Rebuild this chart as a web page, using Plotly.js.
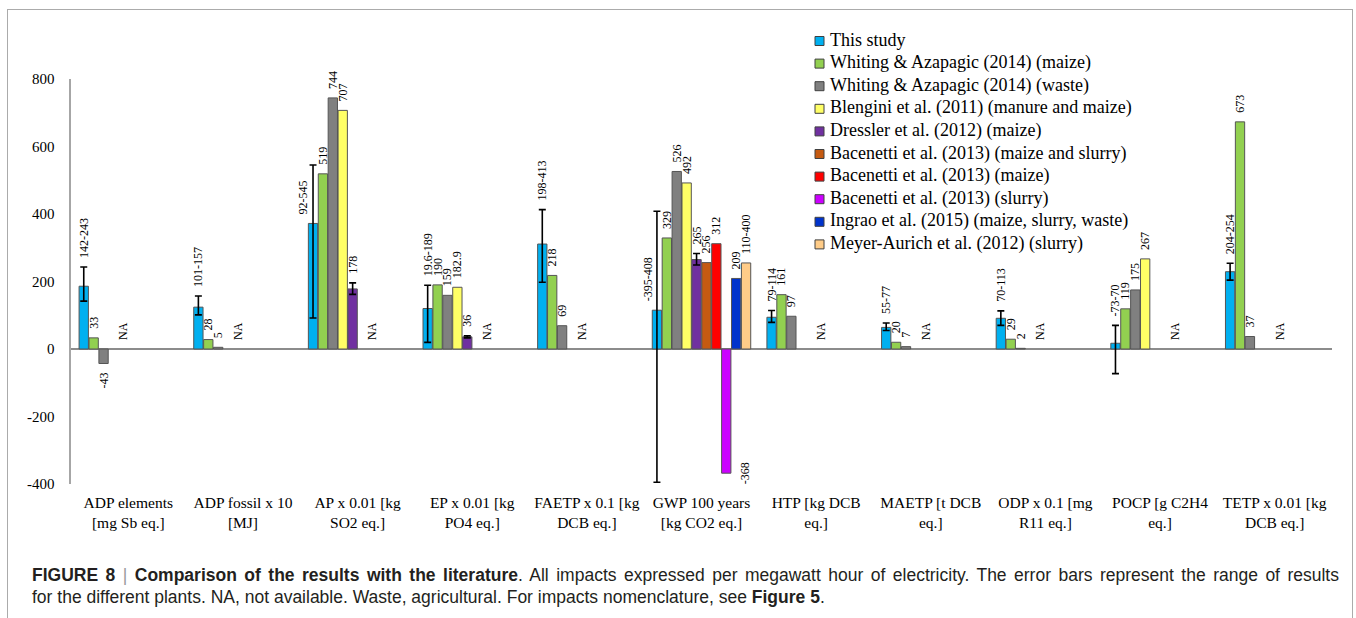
<!DOCTYPE html>
<html><head><meta charset="utf-8">
<script src="https://cdn.plot.ly/plotly-3.0.1.min.js"></script>
<style>
html,body{margin:0;padding:0;background:#fff;}
#wrap{position:relative;width:1356px;height:618px;overflow:hidden;background:#fff;}
#chart{position:absolute;left:0;top:0;width:1356px;height:618px;}
#frame{position:absolute;left:7px;top:9px;width:1344px;height:700px;border:1px solid #ababab;pointer-events:none;}
.cap{position:absolute;left:32px;font-family:'Liberation Sans',Arial,sans-serif;font-size:17.5px;line-height:22px;color:#231f20;}
#cap1{top:564px;width:1307px;text-align:justify;text-align-last:justify;white-space:normal;}
#cap2{top:586px;white-space:nowrap;}
.sep{color:#9a9a9a;font-weight:normal;}
</style></head>
<body>
<div id="wrap">
<div id="chart"></div>
<div id="frame"></div>
<div class="cap" id="cap1"><b>FIGURE 8</b> <span class="sep">|</span> <b>Comparison of the results with the literature</b>. All impacts expressed per megawatt hour of electricity. The error bars represent the range of results</div>
<div class="cap" id="cap2">for the different plants. NA, not available. Waste, agricultural. For impacts nomenclature, see <b>Figure 5</b>.</div>
</div>
<script>
// ---------------- data ----------------
const categories = [
  'ADP elements<br>[mg Sb eq.]',
  'ADP fossil x 10<br>[MJ]',
  'AP x 0.01 [kg<br>SO2 eq.]',
  'EP x 0.01 [kg<br>PO4 eq.]',
  'FAETP x 0.1 [kg<br>DCB eq.]',
  'GWP 100 years<br>[kg CO2 eq.]',
  'HTP [kg DCB<br>eq.]',
  'MAETP [t DCB<br>eq.]',
  'ODP x 0.1 [mg<br>R11 eq.]',
  'POCP [g C2H4<br>eq.]',
  'TETP x 0.01 [kg<br>DCB eq.]'
];

const seriesNames = [
  'This study',
  'Whiting &amp; Azapagic (2014) (maize)',
  'Whiting &amp; Azapagic (2014) (waste)',
  'Blengini et al. (2011) (manure and maize)',
  'Dressler et al. (2012) (maize)',
  'Bacenetti et al. (2013) (maize and slurry)',
  'Bacenetti et al. (2013) (maize)',
  'Bacenetti et al. (2013) (slurry)',
  'Ingrao et al. (2015) (maize, slurry, waste)',
  'Meyer-Aurich et al. (2012) (slurry)'
];

const thisStudy      = [186, 124, 372, 120, 311, 115, 94, 64, 91, 17, 229];
const thisStudyLow   = [142, 101, 92, 19.6, 198, -395, 79, 55, 70, -73, 204];
const thisStudyHigh  = [243, 157, 545, 189, 413, 408, 114, 77, 113, 70, 254];
const thisStudyLabels = ['142-243','101-157','92-545','19.6-189','198-413','-395-408','79-114','55-77','70-113','-73-70','204-254'];

const whitingMaize = [33, 28, 519, 190, 218, 329, 161, 20, 29, 119, 673];
const whitingMaizeLabels = ['33','28','519','190','218','329','161','20','29','119','673'];

const whitingWaste = [-43, 5, 744, 159, 69, 526, 97, 7, 2, 175, 37];
const whitingWasteLabels = ['-43','5','744','159','69','526','97','7','2','175','37'];

const blengini = [null, null, 707, 182.9, null, 492, null, null, null, 267, null];
const blenginiLabels = [null, null, '707', '182.9', null, '492', null, null, null, '267', null];

const dressler     = [null, null, 178, 36, null, 265, null, null, null, null, null];
const dresslerLow  = [null, null, 162, 33, null, 249, null, null, null, null, null];
const dresslerHigh = [null, null, 196, 39, null, 283, null, null, null, null, null];
const dresslerLabels = ['NA', 'NA', '178', '36', 'NA', '265', null, 'NA', 'NA', null, null];

const bacenettiMix = [null, null, null, null, null, 256, null, null, null, null, null];
const bacenettiMixLabels = [null, null, null, null, null, '256', 'NA', null, null, null, 'NA'];

const bacenettiMaize = [null, null, null, null, null, 312, null, null, null, null, null];
const bacenettiMaizeLabels = [null, null, 'NA', 'NA', null, '312', null, null, null, 'NA', null];

const bacenettiSlurry = [null, null, null, null, null, -368, null, null, null, null, null];
const bacenettiSlurryLabels = [null, null, null, null, null, '-368', null, null, null, null, null];

const ingrao = [null, null, null, null, null, 209, null, null, null, null, null];
const ingraoLabels = [null, null, null, null, null, '209', null, null, null, null, null];

const meyerAurich = [null, null, null, null, null, 255, null, null, null, null, null];
const meyerAurichLabels = [null, null, null, null, null, '110-400', null, null, null, null, null];

const yTickVals = [-400, -200, 0, 200, 400, 600, 800];
const yTickText = ['-400', '-200', '0', '200', '400', '600', '800'];

// ---------------- styling ----------------
const seriesColors = ['#00B0F0','#92D050','#808080','#FFFF66','#7030A0','#C55A11','#FF0000','#CC00FF','#0033CC','#FFCC88'];
const seriesValues = [thisStudy, whitingMaize, whitingWaste, blengini, dressler, bacenettiMix, bacenettiMaize, bacenettiSlurry, ingrao, meyerAurich];
const seriesLows   = [thisStudyLow, null, null, null, dresslerLow, null, null, null, null, null];
const seriesHighs  = [thisStudyHigh, null, null, null, dresslerHigh, null, null, null, null, null];
const seriesLabels = [thisStudyLabels, whitingMaizeLabels, whitingWasteLabels, blenginiLabels, dresslerLabels, bacenettiMixLabels, bacenettiMaizeLabels, bacenettiSlurryLabels, ingraoLabels, meyerAurichLabels];

// labels moved beside their bar in the original figure (series -> {category: slot shift})
const movedLabels = {0: {2: -1.05, 5: -0.9}};
const besideSeries = 7, besideShift = 1.9;

const SERIF = 'Liberation Serif, Times New Roman, serif';
const BARGAP = 0.136, GROUPGAP = 0.06;
const N = seriesNames.length;
const slot = (1 - BARGAP) / N;
const slotStart = i => -(1 - BARGAP) / 2 + i * slot;
const NB = '\u00a0\u00a0';

const traces = [];
for (let i = 0; i < N; i++) {
  const v = seriesValues[i], lo = seriesLows[i], hi = seriesHighs[i];
  const t = {
    type: 'bar', name: seriesNames[i], x: categories, y: v,
    marker: {color: seriesColors[i], line: {color: '#555555', width: 1}},
    showlegend: false, hoverinfo: 'name+y'
  };
  if (lo && hi) {
    t.error_y = {
      type: 'data', symmetric: false, visible: true,
      array: v.map((d, k) => d == null ? null : hi[k] - d),
      arrayminus: v.map((d, k) => d == null ? null : d - lo[k]),
      color: '#000', thickness: 1.6, width: 3.5
    };
  }
  traces.push(t);
}
// label traces (invisible bars carrying the rotated data labels)
for (let i = 0; i < N; i++) {
  const v = seriesValues[i], lo = seriesLows[i], hi = seriesHighs[i], lab = seriesLabels[i];
  const moved = movedLabels[i] || {};
  const beside = (i === besideSeries);
  const anchors = lab.map((s, k) => {
    if (s == null) return null;
    const d = v[k];
    if (d == null) return 0;
    if (moved[k] != null) return d;
    if (d >= 0) return hi && hi[k] != null ? hi[k] : d;
    return lo && lo[k] != null ? lo[k] : d;
  });
  const texts = lab.map((s, k) => {
    if (s == null) return '';
    if (beside) return s;
    const d = v[k];
    return (d != null && d < 0) ? s + NB : NB + s;
  });
  const offsets = lab.map((s, k) => slotStart(i) + (beside ? besideShift : (moved[k] || 0)) * slot);
  const t = {
    type: 'bar', x: categories, text: texts,
    textposition: beside ? 'inside' : 'outside',
    insidetextanchor: 'middle',
    textangle: -90, constraintext: 'none', cliponaxis: false,
    offset: offsets, width: slot,
    marker: {color: 'rgba(0,0,0,0)', line: {width: 0}},
    textfont: {family: SERIF, size: 12, color: '#000'},
    insidetextfont: {family: SERIF, size: 12, color: '#000'},
    outsidetextfont: {family: SERIF, size: 12, color: '#000'},
    showlegend: false, hoverinfo: 'skip'
  };
  if (beside) {
    // a label carrier centred on the end of the bar
    const half = 30;
    t.base = anchors.map(a => a == null ? null : a - half);
    t.y = anchors.map(a => a == null ? null : 2 * half);
  } else {
    t.y = anchors;
  }
  traces.push(t);
}

// ---------------- legend (drawn as legend keys + texts) ----------------
const plotL = 71, plotW = 1261, plotB = 484, plotH = 405;
const px2x = p => (p - plotL) / plotW;
const px2y = p => (plotB - p) / plotH;
const legTextX = 829, legKeyX = 815, legKey = 9, legRow0 = 40, legRowStep = 22.6;
const annotations = [], shapes = [];
seriesNames.forEach((nm, i) => {
  const cy = legRow0 + i * legRowStep;
  annotations.push({
    xref: 'paper', yref: 'paper', x: px2x(legTextX - 1), y: px2y(cy),
    xanchor: 'left', yanchor: 'middle', showarrow: false, text: nm,
    font: {family: SERIF, size: 18, color: '#000'}
  });
  shapes.push({
    type: 'rect', xref: 'paper', yref: 'paper',
    x0: px2x(legKeyX), x1: px2x(legKeyX + legKey),
    y0: px2y(cy - legKey / 2 + 1), y1: px2y(cy + legKey / 2 + 1),
    fillcolor: seriesColors[i], line: {color: '#404040', width: 1}
  });
});

const layout = {
  width: 1356, height: 618,
  margin: {l: 71, r: 24, t: 79, b: 134, pad: 0},
  paper_bgcolor: 'rgba(0,0,0,0)', plot_bgcolor: 'rgba(0,0,0,0)',
  barmode: 'group', bargap: BARGAP, bargroupgap: GROUPGAP,
  font: {family: SERIF, color: '#000'},
  showlegend: false,
  annotations: annotations, shapes: shapes,
  xaxis: {
    type: 'category', showgrid: false, zeroline: false, showline: false,
    ticks: '', tickfont: {family: SERIF, size: 15.5, color: '#000'},
    ticklabelstandoff: 7, fixedrange: true
  },
  yaxis: {
    range: [-400, 800], tickvals: yTickVals, ticktext: yTickText,
    showgrid: false, zeroline: true, zerolinecolor: '#8c8c8c', zerolinewidth: 1.6,
    showline: true, linecolor: '#a6a6a6', linewidth: 1.6,
    ticks: '', tickfont: {family: SERIF, size: 15, color: '#000'},
    ticklabelstandoff: 12, fixedrange: true
  }
};

Plotly.newPlot('chart', traces, layout, {displayModeBar: false, staticPlot: true});
</script>
</body></html>
